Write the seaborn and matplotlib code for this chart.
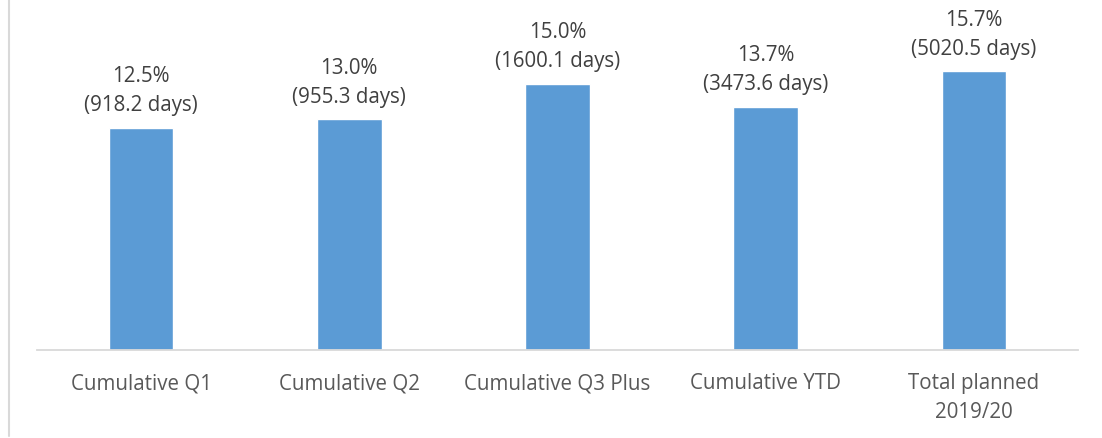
import matplotlib
matplotlib.use("Agg")
import matplotlib.pyplot as plt
import seaborn as sns
import pandas as pd
from matplotlib.lines import Line2D

categories = ["Cumulative Q1", "Cumulative Q2", "Cumulative Q3 Plus", "Cumulative YTD", "Total planned\n2019/20"]
percent = [12.5, 13.0, 15.0, 13.7, 15.7]
days = [918.2, 955.3, 1600.1, 3473.6, 5020.5]

df = pd.DataFrame({"category": categories, "percent": percent})

sns.set_theme(style="white")
plt.rcParams["font.family"] = ["Open Sans", "DejaVu Sans"]

W, H = 1102, 439
fig = plt.figure(figsize=(W / 100, H / 100), dpi=100)
ax = fig.add_axes([37 / W, (H - 351) / H, (1078 - 37) / W, 351 / H])

sns.barplot(data=df, x="category", y="percent", color="#5b9bd5", width=0.31,
            saturation=1, ax=ax)

ax.set_ylim(0, 351 / 17.76)
ax.set_xlim(-0.5, len(categories) - 0.5)
ax.set_xlabel("")
ax.set_ylabel("")
ax.set_yticks([])
for side in ["left", "right", "top"]:
    ax.spines[side].set_visible(False)
ax.spines["bottom"].set_color("#d9d9d9")
ax.spines["bottom"].set_linewidth(1.3)
ax.tick_params(axis="x", length=0, pad=16, labelsize=14.8, labelcolor="#595959")
for lbl in ax.get_xticklabels():
    lbl.set_linespacing(1.5)

for i, (p, d) in enumerate(zip(percent, days)):
    ax.annotate(f"{p:.1f}%\n({d:.1f} days)", xy=(i, p), xytext=(0, 9),
                textcoords="offset points", ha="center", va="bottom",
                fontsize=14.8, color="#404040", linespacing=1.5)

# light frame edge on the left
fig.add_artist(Line2D([8.5 / W, 8.5 / W], [2 / H, 1], transform=fig.transFigure,
                      color="#d9d9d9", linewidth=1.5))

fig.savefig("out.png", dpi=100, facecolor="white")
